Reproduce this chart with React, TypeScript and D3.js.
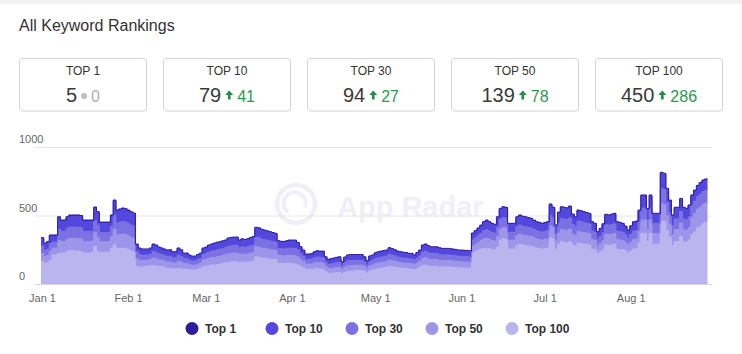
import React from 'react'
import * as d3 from 'd3'

// daily values, Jan 1 - Aug 28 (stacked: top100 at the bottom)
const top100 = [
  163, 151, 155, 175, 212, 212, 224, 224, 224, 236,
  243, 243, 240, 240, 236, 224, 224, 224, 230, 272,
  236, 231, 231, 231, 231, 260, 285, 260, 260, 260,
  260, 250, 236, 236, 127, 125, 125, 127, 130, 134,
  134, 130, 127, 127, 120, 114, 114, 110, 110, 114,
  110, 107, 107, 104, 102, 102, 107, 114, 127, 130,
  134, 139, 139, 142, 145, 150, 156, 156, 160, 163,
  163, 155, 160, 160, 160, 163, 165, 199, 195, 190,
  190, 185, 182, 180, 178, 151, 151, 148, 151, 151,
  148, 145, 139, 127, 118, 107, 107, 107, 110, 112,
  110, 105, 90, 80, 78, 80, 82, 82, 74, 85,
  90, 92, 95, 97, 97, 97, 90, 78, 95, 102,
  107, 112, 114, 118, 122, 127, 124, 122, 120, 116,
  114, 112, 110, 107, 104, 110, 124, 134, 137, 130,
  128, 128, 128, 125, 125, 125, 124, 123, 122, 120,
  118, 117, 116, 115, 114, 224, 236, 248, 255, 260,
  262, 258, 252, 250, 270, 320, 330, 325, 255, 255,
  255, 280, 290, 285, 280, 278, 275, 270, 262, 258,
  255, 258, 262, 340, 330, 250, 290, 310, 305, 300,
  310, 285, 275, 300, 295, 292, 290, 285, 255, 250,
  222, 235, 250, 285, 282, 285, 290, 255, 252, 250,
  240, 225, 240, 255, 258, 300, 370, 370, 310, 370,
  290, 290, 290, 460, 455, 390, 340, 280, 310, 310,
  345, 310, 305, 320, 360, 380, 410, 420, 440, 450,
]

const top50 = [
  60, 50, 53, 63, 50, 50, 93, 85, 85, 89,
  91, 91, 92, 92, 92, 85, 85, 85, 82, 102,
  102, 77, 77, 77, 77, 85, 115, 98, 101, 103,
  102, 102, 102, 99, 57, 48, 45, 44, 43, 44,
  55, 54, 49, 47, 46, 46, 47, 43, 43, 51,
  48, 41, 41, 37, 35, 35, 37, 38, 47, 48,
  52, 53, 55, 57, 57, 57, 57, 63, 63, 63,
  63, 58, 59, 57, 59, 62, 63, 75, 75, 73,
  71, 71, 70, 68, 67, 57, 56, 56, 57, 59,
  60, 61, 57, 50, 45, 38, 38, 39, 43, 45,
  45, 46, 37, 34, 36, 37, 39, 40, 30, 38,
  42, 42, 41, 40, 40, 40, 37, 31, 37, 37,
  41, 42, 43, 43, 43, 48, 46, 44, 41, 41,
  40, 40, 39, 40, 37, 41, 42, 52, 54, 52,
  50, 50, 50, 48, 46, 46, 47, 46, 46, 45,
  45, 45, 45, 45, 44, 51, 53, 55, 60, 68,
  71, 68, 66, 64, 77, 81, 82, 82, 65, 65,
  65, 73, 75, 73, 73, 72, 71, 68, 67, 67,
  65, 66, 67, 85, 80, 63, 82, 89, 89, 90,
  91, 79, 75, 84, 84, 82, 81, 81, 69, 67,
  55, 59, 66, 78, 77, 78, 79, 69, 69, 67,
  63, 58, 64, 69, 70, 84, 98, 98, 85, 98,
  79, 79, 79, 125, 125, 108, 96, 78, 87, 87,
  98, 87, 86, 90, 127, 134, 136, 140, 139, 139,
]

const top30 = [
  53, 45, 47, 56, 44, 44, 83, 75, 75, 79,
  81, 81, 82, 82, 82, 75, 75, 75, 73, 90,
  91, 68, 68, 68, 68, 76, 102, 87, 90, 92,
  90, 90, 91, 88, 51, 42, 40, 39, 38, 39,
  49, 48, 44, 42, 41, 41, 42, 38, 38, 46,
  43, 36, 36, 33, 31, 31, 33, 34, 42, 43,
  46, 47, 49, 50, 51, 51, 51, 56, 56, 56,
  56, 51, 52, 51, 52, 55, 56, 67, 67, 65,
  63, 63, 62, 61, 60, 51, 50, 50, 51, 52,
  53, 54, 51, 44, 40, 34, 34, 35, 38, 40,
  40, 41, 33, 30, 32, 33, 34, 36, 27, 34,
  37, 37, 36, 36, 36, 36, 33, 28, 33, 33,
  37, 38, 38, 38, 38, 42, 41, 39, 36, 36,
  36, 36, 35, 36, 33, 36, 38, 46, 48, 46,
  44, 44, 44, 43, 41, 41, 42, 41, 41, 40,
  40, 40, 40, 40, 39, 45, 47, 49, 54, 60,
  63, 61, 59, 57, 68, 72, 73, 73, 58, 58,
  58, 65, 66, 65, 65, 64, 63, 61, 60, 59,
  58, 59, 60, 76, 71, 56, 73, 79, 79, 80,
  81, 70, 67, 75, 75, 73, 72, 72, 62, 60,
  49, 52, 59, 69, 69, 70, 70, 62, 61, 60,
  56, 52, 57, 62, 62, 75, 87, 87, 75, 87,
  70, 70, 70, 111, 111, 96, 85, 69, 78, 78,
  87, 78, 77, 80, 85, 90, 91, 94, 94, 94,
]

const top10 = [
  54, 45, 47, 56, 44, 44, 83, 75, 75, 79,
  81, 81, 82, 82, 82, 75, 75, 75, 74, 90,
  91, 68, 68, 68, 68, 75, 103, 87, 89, 92,
  90, 90, 91, 87, 51, 42, 40, 40, 39, 40,
  48, 47, 44, 41, 42, 41, 41, 39, 39, 46,
  43, 36, 36, 32, 30, 30, 32, 34, 41, 43,
  47, 47, 50, 50, 50, 51, 51, 55, 55, 55,
  55, 51, 53, 51, 53, 54, 56, 67, 67, 66,
  64, 63, 62, 61, 59, 51, 49, 50, 51, 53,
  54, 55, 51, 45, 39, 34, 34, 35, 38, 40,
  39, 42, 33, 30, 33, 34, 34, 35, 26, 34,
  37, 38, 37, 36, 36, 36, 33, 27, 34, 34,
  37, 38, 39, 39, 39, 42, 41, 39, 37, 37,
  36, 36, 34, 35, 32, 37, 38, 47, 47, 46,
  44, 44, 44, 43, 42, 42, 41, 42, 40, 41,
  39, 40, 39, 39, 40, 45, 47, 50, 54, 60,
  64, 61, 59, 58, 69, 72, 72, 73, 58, 58,
  58, 66, 66, 65, 66, 64, 64, 61, 59, 59,
  58, 58, 59, 76, 72, 55, 73, 79, 80, 79,
  80, 70, 67, 74, 74, 74, 72, 71, 62, 59,
  49, 53, 58, 70, 69, 70, 70, 62, 61, 59,
  57, 52, 57, 62, 63, 74, 88, 88, 75, 88,
  70, 70, 70, 112, 110, 97, 85, 70, 78, 78,
  88, 78, 77, 80, 71, 75, 76, 79, 79, 79,
]

const top1 = [
  8, 8, 8, 8, 8, 8, 8, 8, 8, 8,
  8, 8, 8, 8, 8, 8, 8, 8, 8, 8,
  8, 8, 8, 8, 8, 8, 8, 8, 8, 8,
  8, 8, 8, 8, 6, 6, 6, 6, 6, 6,
  6, 6, 6, 6, 6, 6, 6, 6, 6, 6,
  6, 6, 6, 6, 6, 6, 6, 6, 6, 6,
  6, 6, 6, 6, 6, 6, 6, 6, 6, 6,
  6, 6, 6, 6, 6, 6, 6, 6, 6, 6,
  6, 6, 6, 6, 6, 6, 6, 6, 6, 6,
  6, 6, 6, 6, 6, 6, 6, 6, 6, 6,
  6, 6, 6, 6, 6, 6, 6, 6, 6, 6,
  6, 6, 6, 6, 6, 6, 6, 6, 6, 6,
  6, 6, 6, 6, 6, 6, 6, 6, 6, 6,
  6, 6, 6, 6, 6, 6, 6, 6, 6, 6,
  6, 6, 6, 6, 6, 6, 6, 6, 6, 6,
  6, 6, 6, 6, 6, 7, 7, 7, 7, 7,
  7, 7, 7, 7, 7, 7, 7, 7, 7, 7,
  7, 7, 7, 7, 7, 7, 7, 7, 7, 7,
  7, 7, 7, 7, 7, 7, 7, 7, 7, 7,
  7, 7, 7, 7, 7, 7, 7, 7, 7, 7,
  7, 7, 7, 7, 7, 7, 7, 7, 7, 7,
  7, 7, 7, 7, 7, 7, 7, 7, 7, 7,
  7, 7, 7, 7, 7, 7, 7, 7, 7, 7,
  7, 7, 7, 7, 7, 7, 7, 7, 7, 5,
]

const seriesKeys = ['top100', 'top50', 'top30', 'top10', 'top1']
const seriesColors: { [k: string]: string } = {
  top1: '#2b1d9e', top10: '#5447de', top30: '#7b71e2', top50: '#9d95ea', top100: '#bab4ef',
}
const legendKeys = ['top1', 'top10', 'top30', 'top50', 'top100']
const legendNames = ['Top 1', 'Top 10', 'Top 30', 'Top 50', 'Top 100']

const cardLabels = ['TOP 1', 'TOP 10', 'TOP 30', 'TOP 50', 'TOP 100']
const cardValues = [5, 79, 94, 139, 450]
const cardChanges = [0, 41, 27, 78, 286]

const yTicks = [0, 500, 1000]
const startDate = new Date(2019, 0, 1)

const font = 'Arial, "Liberation Sans", Helvetica, sans-serif'

const App: React.FC = () => {
  const rows: any[] = top100.map((v, i) => ({
    date: d3.timeDay.offset(startDate, i),
    top100: v, top50: top50[i], top30: top30[i], top10: top10[i], top1: top1[i],
  }))
  // extra point so the last step gets its width
  rows.push({ ...rows[rows.length - 1], date: d3.timeDay.offset(startDate, rows.length) })

  const stacked = d3.stack<any>().keys(seriesKeys)(rows)

  const x = d3.scaleTime().domain([startDate, rows[rows.length - 1].date]).range([41, 707.5])
  const y = d3.scaleLinear().domain([0, 1000]).range([284, 147])

  const area = d3.area<any>()
    .x(d => x(d.data.date))
    .y0(d => y(d[0]))
    .y1(d => y(d[1]))
    .curve(d3.curveStepAfter)
  const line = d3.line<any>()
    .x(d => x(d.data.date))
    .y(d => y(d[1]))
    .curve(d3.curveStepAfter)

  const xTicks = x.ticks(d3.timeMonth.every(1)!).filter(t => t <= new Date(2019, 7, 1))
  const fmt = d3.timeFormat('%b %-d')

  const digit = 0.556
  return (
    <div style={{ position: 'absolute', left: 0, top: 0 }}>
      <svg width={742} height={354} style={{ display: 'block', background: '#fff', fontFamily: font }}>
        <rect x={0} y={0} width={742} height={4} fill="#f1f1f1" />
        <text x={19} y={31} fontSize={16} fill="#333">All Keyword Rankings</text>

        {cardLabels.map((lab, i) => {
          const x0 = 19.5 + i * 144
          const cx = x0 + 63.5
          const mainW = String(cardValues[i]).length * 20 * digit
          const deltaW = String(cardChanges[i]).length * 16 * digit
          const iconW = i === 0 ? 6 : 8
          const total = mainW + 4 + iconW + 4 + deltaW
          const sx = cx - total / 2
          const ix = sx + mainW + 4
          const dx = ix + iconW + 4
          const up = cardChanges[i] > 0
          return (
            <g key={lab}>
              <rect x={x0} y={58.5} width={127} height={52.5} rx={3} fill="#fff" stroke="#d4d4d4" />
              <text x={cx} y={75} fontSize={12} fill="#333" textAnchor="middle">{lab}</text>
              <text x={sx} y={102} fontSize={20} fill="#3a3a3a">{cardValues[i]}</text>
              {up ? (
                <path transform={`translate(${ix},90.5)`} d="M0,4.6 L4,0 L8,4.6 L5.3,4.6 L5.3,9 L2.7,9 L2.7,4.6 Z" fill="#1f8f45" />
              ) : (
                <circle cx={ix + 3} cy={96} r={3} fill="#bdbdbd" />
              )}
              <text x={dx} y={102} fontSize={16} fill={up ? '#2b9a4f' : '#b0b0b0'}>{cardChanges[i]}</text>
            </g>
          )
        })}

        {/* watermark */}
        <g>
          <circle cx={296} cy={204} r={19} fill="none" stroke="#f0eff8" strokeWidth={4.5} />
          <path d="M288,212 A11,11 0 1,1 305,207" fill="none" stroke="#f0eff8" strokeWidth={4} />
          <text x={337} y={217} fontSize={29} fontWeight="bold" fill="#f0eff7">App Radar</text>
        </g>

        {yTicks.map(t => (
          <g key={t}>
            {t > 0 && <line x1={35} x2={712} y1={y(t) + 0.5} y2={y(t) + 0.5} stroke="#e6e6e6" />}
            <text x={19} y={y(t) - 4} fontSize={11} fill="#666">{t}</text>
          </g>
        ))}

        {stacked.map(s => (
          <path key={s.key} d={area(s) || ''} fill={seriesColors[s.key]} />
        ))}
        {stacked.map(s => (
          <path key={s.key + 'l'} d={line(s) || ''} fill="none" stroke={seriesColors[s.key]} strokeWidth={1} />
        ))}

        <line x1={35} x2={712} y1={y(0) + 0.5} y2={y(0) + 0.5} stroke="#d8d8d8" />

        {xTicks.map(t => (
          <text key={+t} x={x(t) + 1.5} y={302} fontSize={11} fill="#666" textAnchor="middle">{fmt(t)}</text>
        ))}

        {legendKeys.map((k, i) => (
          <g key={k} transform={`translate(${192 + i * 80},328.5)`}>
            <circle r={6.5} fill={seriesColors[k]} />
            <text x={13} y={4.5} fontSize={12} fontWeight="bold" fill="#333">{legendNames[i]}</text>
          </g>
        ))}
      </svg>
    </div>
  )
}

export default App
